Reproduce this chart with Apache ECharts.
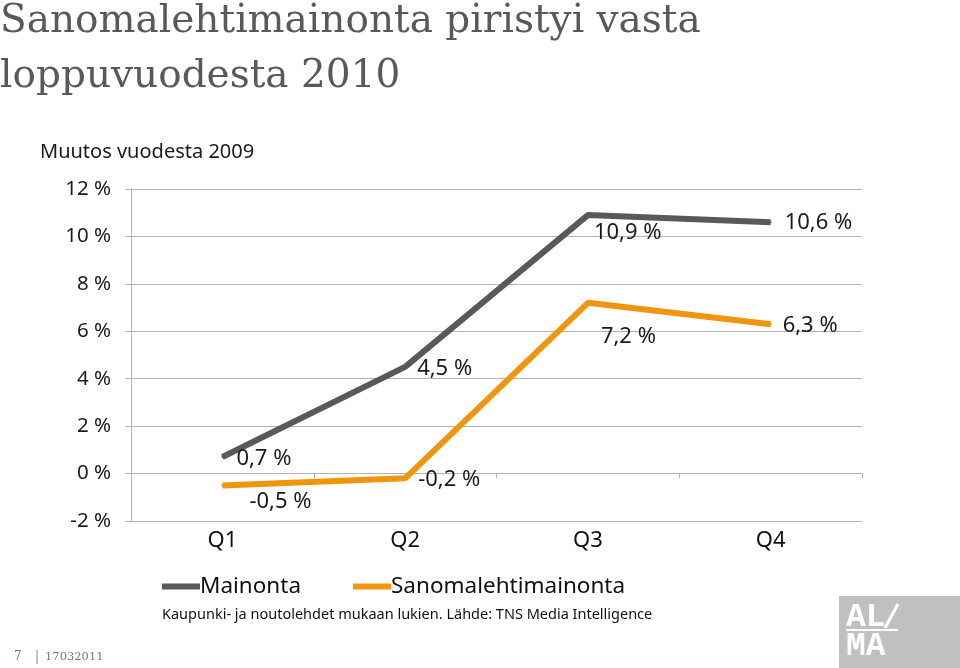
<!DOCTYPE html>
<html>
<head>
<meta charset="utf-8">
<script src="https://cdn.jsdelivr.net/npm/echarts@6/dist/echarts.min.js"></script>
<style>
html,body{margin:0;padding:0;background:#fff;}
#c{width:960px;height:668px;}
</style>
</head>
<body>
<div id="c"></div>
<script>
var categories = ['Q1', 'Q2', 'Q3', 'Q4'];
var mainonta = [0.7, 4.5, 10.9, 10.6];
var sanomalehti = [-0.5, -0.2, 7.2, 6.3];
var seriesNames = ['Mainonta', 'Sanomalehtimainonta'];
var yTicks = { min: -2, max: 12, interval: 2 };

// label offsets (style only)
var offMain = [[8, 2], [6, 2], [0, 18], [8, 1]];
var offSano = [[21, 16], [7, 1], [7, 34], [6, 2]];

var SANS = '"Noto Sans", "DejaVu Sans", sans-serif';
var SERIF = '"DejaVu Serif", "Liberation Serif", serif';
var MONO = 'bold 33px "Liberation Mono", "DejaVu Sans Mono", monospace';

function fmt(v) { return String(v).replace('.', ',') + ' %'; }

function buildData(vals, offs) {
  return vals.map(function (v, i) {
    return { value: v, label: { offset: offs[i] } };
  });
}

var chart = echarts.init(document.getElementById('c'), null, { renderer: 'canvas' });

var labelStyle = {
  show: true,
  position: 'right',
  distance: 5,
  fontFamily: SANS,
  fontSize: 22,
  color: '#1a1a1a',
  formatter: function (p) { return fmt(p.value); }
};

chart.setOption({
  animation: false,
  backgroundColor: '#ffffff',
  grid: { left: 131, right: 98, top: 189, bottom: 147 },
  legend: {
    data: seriesNames,
    left: 157,
    top: 570,
    icon: 'rect',
    itemWidth: 38,
    itemHeight: 6,
    itemGap: 52,
    textStyle: { fontFamily: SANS, fontSize: 22.5, color: '#111', padding: [0, 0, 0, -5] }
  },
  xAxis: [
    {
      type: 'category',
      data: categories,
      position: 'bottom',
      axisLine: { show: false, onZero: false },
      axisTick: { show: false },
      axisLabel: { fontFamily: SANS, fontSize: 22, color: '#111', margin: 9 }
    },
    {
      type: 'category',
      data: categories,
      position: 'bottom',
      axisLine: { show: true, onZero: true, lineStyle: { color: '#b3b3b3', width: 1 } },
      axisTick: { show: true, length: 5, lineStyle: { color: '#b3b3b3' } },
      axisLabel: { show: false }
    }
  ],
  yAxis: {
    type: 'value',
    min: yTicks.min,
    max: yTicks.max,
    interval: yTicks.interval,
    axisLine: { show: true, lineStyle: { color: '#b3b3b3', width: 1 } },
    axisTick: { show: true, length: 6, lineStyle: { color: '#b3b3b3' } },
    splitLine: { show: true, lineStyle: { color: '#b3b3b3', width: 1 } },
    axisLabel: {
      fontFamily: SANS, fontSize: 20.5, color: '#1a1a1a', margin: 20,
      formatter: function (v) { return v + ' %'; }
    }
  },
  series: [
    {
      name: seriesNames[0],
      type: 'line',
      xAxisIndex: 1,
      data: buildData(mainonta, offMain),
      symbol: 'circle',
      symbolSize: 2,
      lineStyle: { color: '#595959', width: 6 },
      itemStyle: { color: '#595959' },
      label: labelStyle,
      z: 3
    },
    {
      name: seriesNames[1],
      type: 'line',
      xAxisIndex: 1,
      data: buildData(sanomalehti, offSano),
      symbol: 'circle',
      symbolSize: 2,
      lineStyle: { color: '#F0950E', width: 6 },
      itemStyle: { color: '#F0950E' },
      label: labelStyle,
      z: 4
    }
  ],
  graphic: [
    { type: 'text', left: 0, top: 2, style: { text: 'Sanomalehtimainonta piristyi vasta', font: '39px ' + SERIF, fill: '#595959' } },
    { type: 'text', left: 0, top: 57, style: { text: 'loppuvuodesta 2010', font: '39px ' + SERIF, fill: '#595959' } },
    { type: 'text', left: 40, top: 142, style: { text: 'Muutos vuodesta 2009', font: '20px ' + SANS, fill: '#1a1a1a' } },
    { type: 'text', left: 162, top: 607, style: { text: 'Kaupunki- ja noutolehdet mukaan lukien. Lähde: TNS Media Intelligence', font: '14.5px ' + SANS, fill: '#111' } },
    { type: 'text', left: 14, top: 651, style: { text: '7', font: '12px ' + SERIF, fill: '#777' } },
    { type: 'line', shape: { x1: 37, y1: 650, x2: 37, y2: 664 }, style: { stroke: '#888', lineWidth: 1 } },
    { type: 'text', left: 45, top: 651, style: { text: '17032011', font: '11.5px ' + SERIF, fill: '#777' } },
    { type: 'rect', shape: { x: 839, y: 596, width: 121, height: 72 }, style: { fill: '#c0c0c0' } },
    { type: 'text', left: 846, top: 601, style: { text: 'AL', font: MONO, fill: '#ffffff' } },
    { type: 'line', shape: { x1: 885, y1: 628, x2: 898, y2: 604 }, style: { stroke: '#ffffff', lineWidth: 3 } },
    { type: 'line', shape: { x1: 846, y1: 630, x2: 898, y2: 630 }, style: { stroke: '#ffffff', lineWidth: 2 } },
    { type: 'text', left: 846, top: 630, style: { text: 'MA', font: MONO, fill: '#ffffff' } }
  ]
});
</script>
</body>
</html>
